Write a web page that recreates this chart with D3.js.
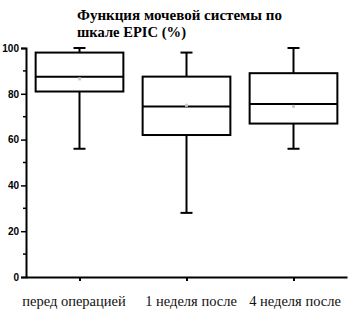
<!DOCTYPE html>
<html>
<head>
<meta charset="utf-8">
<script src="https://cdn.jsdelivr.net/npm/d3@7"></script>
<style>
  body { margin: 0; background: #fff; }
  svg { display: block; }
</style>
</head>
<body>
<div id="chart"></div>
<script>
const categories = ["перед операцией", "1 неделя после", "4 неделя после"];
const whiskerLow = [56, 28, 56];
const q1 = [81, 62, 67];
const medians = [87.5, 74.5, 75.5];
const q3 = [98, 87.5, 89];
const whiskerHigh = [100, 98, 100];
const means = [86.5, 75, 74.5];
const yTicks = [0, 20, 40, 60, 80, 100];
const yMinorTicks = [10, 30, 50, 70, 90];
const titleLines = ["Функция мочевой системы по", "шкале EPIC (%)"];

const width = 353, height = 322;
const margin = { top: 48, right: 6, bottom: 45, left: 26 };

const svg = d3.select("#chart").append("svg")
    .attr("width", width)
    .attr("height", height);

const x = d3.scalePoint()
    .domain(categories)
    .range([margin.left, width - margin.right])
    .padding(0.5);

const y = d3.scaleLinear()
    .domain([0, 100])
    .range([height - margin.bottom, margin.top]);

const boxW = x.step() * 0.82;
const capW = 12;

// title, two lines, heavy serif
const titleWidths = [205, 109];
svg.append("g")
    .selectAll("text")
    .data(titleLines)
    .join("text")
    .attr("x", 77)
    .attr("y", (d, i) => 20 + i * 16.5)
    .attr("textLength", (d, i) => titleWidths[i])
    .attr("lengthAdjust", "spacingAndGlyphs")
    .style("font-family", "'Liberation Serif', 'DejaVu Serif', serif")
    .style("font-weight", "bold")
    .style("font-size", "14px")
    .text(d => d);

// y axis
const yAxis = svg.append("g")
    .attr("transform", `translate(${margin.left},0)`)
    .call(d3.axisLeft(y).tickValues(yTicks).tickSize(5).tickPadding(2));
yAxis.select(".domain").attr("stroke-width", 2);
yAxis.selectAll(".tick line").attr("stroke-width", 1.5);
yAxis.selectAll("text")
    .style("font-family", "'Liberation Sans', Arial, sans-serif")
    .style("font-weight", "bold")
    .style("font-size", "10px")
    .attr("fill", "#000");
yAxis.selectAll(".minor")
    .data(yMinorTicks)
    .join("line")
    .attr("class", "minor")
    .attr("x1", -3).attr("x2", 0)
    .attr("y1", d => y(d)).attr("y2", d => y(d))
    .attr("stroke", "#000").attr("stroke-width", 1.5);

// x axis
const labelShift = [-6, 4, 1];
const xAxis = svg.append("g")
    .attr("transform", `translate(0,${y(0)})`)
    .call(d3.axisBottom(x).tickSize(4).tickPadding(16).tickSizeOuter(0));
xAxis.select(".domain").attr("stroke-width", 2);
xAxis.selectAll(".tick line").attr("stroke-width", 2);
xAxis.selectAll("text")
    .attr("dx", (d, i) => labelShift[i])
    .attr("dy", "0.6em")
    .style("font-family", "'Liberation Serif', 'DejaVu Serif', serif")
    .style("font-size", "14.5px")
    .attr("fill", "#111");

// boxes
const boxes = svg.append("g")
    .selectAll("g")
    .data(categories.map((c, i) => ({ c, i })))
    .join("g");

boxes.append("line")
    .attr("x1", d => x(d.c)).attr("x2", d => x(d.c))
    .attr("y1", d => y(whiskerLow[d.i])).attr("y2", d => y(q1[d.i]))
    .attr("stroke", "#000").attr("stroke-width", 2);
boxes.append("line")
    .attr("x1", d => x(d.c)).attr("x2", d => x(d.c))
    .attr("y1", d => y(q3[d.i])).attr("y2", d => y(whiskerHigh[d.i]))
    .attr("stroke", "#000").attr("stroke-width", 2);
boxes.append("line")
    .attr("x1", d => x(d.c) - capW / 2).attr("x2", d => x(d.c) + capW / 2)
    .attr("y1", d => y(whiskerLow[d.i])).attr("y2", d => y(whiskerLow[d.i]))
    .attr("stroke", "#000").attr("stroke-width", 2);
boxes.append("line")
    .attr("x1", d => x(d.c) - capW / 2).attr("x2", d => x(d.c) + capW / 2)
    .attr("y1", d => y(whiskerHigh[d.i])).attr("y2", d => y(whiskerHigh[d.i]))
    .attr("stroke", "#000").attr("stroke-width", 2);
boxes.append("rect")
    .attr("x", d => x(d.c) - boxW / 2)
    .attr("width", boxW)
    .attr("y", d => y(q3[d.i]))
    .attr("height", d => y(q1[d.i]) - y(q3[d.i]))
    .attr("fill", "#fff")
    .attr("stroke", "#000").attr("stroke-width", 2);
boxes.append("line")
    .attr("x1", d => x(d.c) - boxW / 2).attr("x2", d => x(d.c) + boxW / 2)
    .attr("y1", d => y(medians[d.i])).attr("y2", d => y(medians[d.i]))
    .attr("stroke", "#000").attr("stroke-width", 2);
boxes.append("rect")
    .attr("x", d => x(d.c) - 1.5)
    .attr("y", d => y(means[d.i]) - 1.5)
    .attr("width", 3).attr("height", 3)
    .attr("fill", "#ccc");
</script>
</body>
</html>
